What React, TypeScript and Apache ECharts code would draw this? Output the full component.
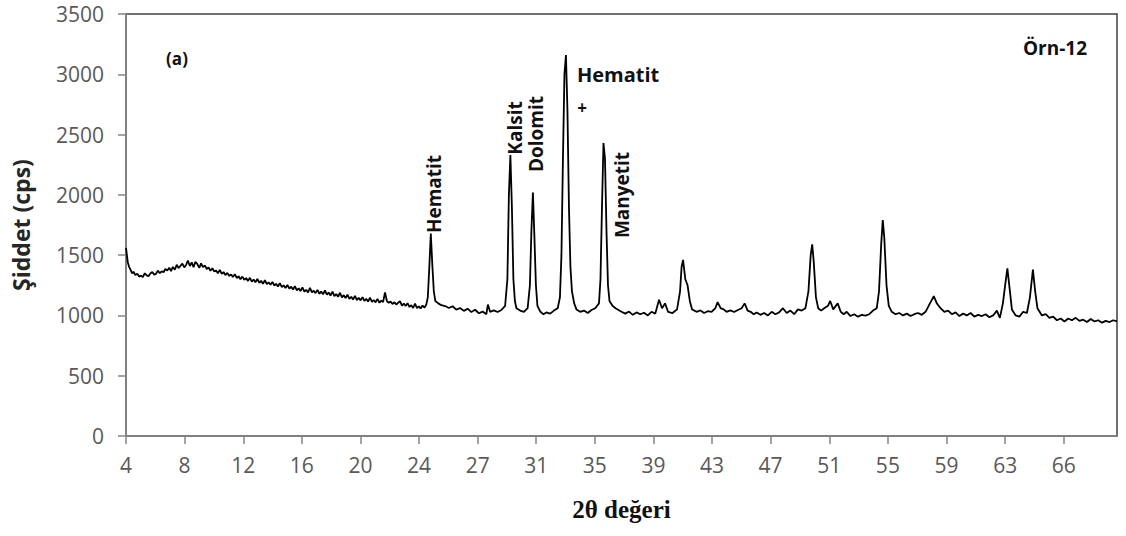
import React, { useEffect, useRef } from "react";
import * as echarts from "echarts";

// 2θ tick positions (degrees) and their printed labels
const tickPositions = [4, 7.9, 11.81, 15.71, 19.61, 23.52, 27.42, 31.32, 35.22, 39.13, 43.03, 46.93, 50.84, 54.74, 58.64, 62.55, 66.45];
const tickLabels = ["4", "8", "12", "16", "20", "24", "27", "31", "35", "39", "43", "47", "51", "55", "59", "63", "66"];

// XRD scan, low-angle part: [2θ, intensity (cps)]
const scanLow: [number, number][] = [
  [4.0, 1560], [4.06, 1500], [4.12, 1440], [4.2, 1405], [4.3, 1380], [4.4, 1350], [4.5, 1362], [4.62, 1335],
  [4.75, 1345], [4.88, 1322], [5.0, 1330], [5.12, 1318], [5.25, 1350], [5.38, 1332], [5.5, 1325], [5.62, 1348],
  [5.75, 1360], [5.88, 1338], [6.0, 1345], [6.12, 1372], [6.25, 1350], [6.38, 1366], [6.5, 1358], [6.62, 1385],
  [6.75, 1372], [6.88, 1395], [7.0, 1368], [7.12, 1402], [7.25, 1380], [7.38, 1420], [7.5, 1392], [7.62, 1410],
  [7.75, 1430], [7.88, 1398], [8.0, 1418], [8.12, 1455], [8.25, 1410], [8.38, 1440], [8.5, 1400], [8.62, 1445],
  [8.75, 1425], [8.88, 1395], [9.0, 1432], [9.12, 1400], [9.25, 1415], [9.38, 1385], [9.5, 1398], [9.62, 1370],
  [9.75, 1392], [9.88, 1365], [10.0, 1372], [10.12, 1350], [10.25, 1378], [10.38, 1345], [10.5, 1360], [10.62, 1335],
  [10.75, 1352], [10.88, 1328], [11.0, 1340], [11.12, 1318], [11.25, 1342], [11.38, 1310], [11.5, 1325], [11.62, 1300],
  [11.75, 1322], [11.88, 1296], [12.0, 1310], [12.12, 1285], [12.25, 1312], [12.38, 1280], [12.5, 1298], [12.62, 1275],
  [12.75, 1302], [12.88, 1270], [13.0, 1288], [13.12, 1262], [13.25, 1292], [13.38, 1260], [13.5, 1275], [13.62, 1255],
  [13.75, 1278], [13.88, 1248], [14.0, 1262], [14.12, 1240], [14.25, 1268], [14.38, 1235], [14.5, 1250], [14.62, 1228],
  [14.75, 1252], [14.88, 1222], [15.0, 1238], [15.12, 1215], [15.25, 1242], [15.38, 1208], [15.5, 1225], [15.62, 1202],
  [15.75, 1232], [15.88, 1198], [16.0, 1212], [16.12, 1190], [16.25, 1228], [16.38, 1192], [16.5, 1205], [16.62, 1185],
  [16.75, 1212], [16.88, 1180], [17.0, 1198], [17.12, 1175], [17.25, 1207], [17.38, 1172], [17.5, 1190], [17.62, 1165],
  [17.75, 1197], [17.88, 1160], [18.0, 1178], [18.12, 1155], [18.25, 1188], [18.38, 1150], [18.5, 1168], [18.62, 1145],
  [18.75, 1172], [18.88, 1138], [19.0, 1155], [19.12, 1132], [19.25, 1162], [19.38, 1128], [19.5, 1146], [19.62, 1125],
  [19.75, 1152], [19.88, 1120], [20.0, 1138], [20.12, 1115], [20.25, 1147], [20.38, 1112], [20.5, 1128], [20.62, 1108],
  [20.75, 1137], [20.88, 1105], [21.0, 1122], [21.12, 1110], [21.25, 1190], [21.38, 1118], [21.5, 1105], [21.62, 1115],
  [21.75, 1095], [21.88, 1110], [22.0, 1090], [22.12, 1105], [22.25, 1117], [22.38, 1082], [22.5, 1098], [22.62, 1078],
  [22.75, 1102], [22.88, 1070], [23.0, 1085], [23.12, 1062], [23.25, 1097], [23.38, 1060], [23.5, 1075], [23.62, 1058],
  [23.75, 1082], [23.88, 1065],
];

// XRD scan, peak region and high-angle part: [2θ, intensity (cps)]
const scanHigh: [number, number][] = [
  [24.0, 1090], [24.1, 1150], [24.2, 1400], [24.3, 1680], [24.4, 1420], [24.5, 1200], [24.6, 1120],
  [24.8, 1100], [25.0, 1085], [25.25, 1078], [25.5, 1062], [25.75, 1076], [26.0, 1048], [26.25, 1062], [26.5, 1038],
  [26.75, 1056], [27.0, 1028], [27.25, 1047], [27.5, 1018], [27.75, 1032], [28.0, 1010], [28.1, 1090], [28.25, 1030],
  [28.5, 1042], [28.75, 1028], [29.0, 1045], [29.25, 1080], [29.4, 1300], [29.5, 2000], [29.6, 2330], [29.7, 1900],
  [29.8, 1300], [29.9, 1120], [30.0, 1060], [30.25, 1040], [30.5, 1030], [30.75, 1060], [30.9, 1250], [31.0, 1700],
  [31.1, 2020], [31.2, 1650], [31.3, 1250], [31.4, 1080], [31.6, 1030], [31.8, 1010], [32.0, 1025], [32.25, 1015],
  [32.5, 1040], [32.75, 1060], [32.9, 1150], [33.0, 1500], [33.1, 2300], [33.2, 3000], [33.3, 3160], [33.4, 2700],
  [33.5, 1900], [33.6, 1400], [33.7, 1200], [33.85, 1100], [34.0, 1050], [34.25, 1030], [34.5, 1040], [34.75, 1020],
  [35.0, 1045], [35.25, 1060], [35.5, 1100], [35.6, 1300], [35.7, 1900], [35.8, 2430], [35.9, 2300], [36.0, 1700],
  [36.1, 1250], [36.2, 1120], [36.4, 1080], [36.6, 1060], [36.8, 1045], [37.0, 1030], [37.25, 1015], [37.5, 1032],
  [37.75, 1005], [38.0, 1025], [38.25, 1010], [38.5, 1022], [38.75, 1000], [39.0, 1030], [39.25, 1015], [39.5, 1130],
  [39.7, 1060], [39.9, 1100], [40.1, 1030], [40.4, 1020], [40.7, 1050], [40.9, 1200], [41.0, 1400], [41.1, 1460],
  [41.25, 1300], [41.4, 1250], [41.55, 1120], [41.7, 1050], [42.0, 1030], [42.25, 1042], [42.5, 1020], [42.75, 1035],
  [43.0, 1030], [43.25, 1060], [43.4, 1110], [43.6, 1060], [43.8, 1050], [44.0, 1030], [44.25, 1042], [44.5, 1028],
  [44.75, 1045], [45.0, 1060], [45.2, 1100], [45.4, 1040], [45.6, 1030], [45.8, 1010], [46.0, 1025], [46.25, 1005],
  [46.5, 1020], [46.75, 1000], [47.0, 1030], [47.25, 1010], [47.5, 1025], [47.75, 1060], [48.0, 1020], [48.25, 1040],
  [48.5, 1010], [48.75, 1050], [49.0, 1040], [49.25, 1060], [49.45, 1200], [49.6, 1500], [49.7, 1590], [49.8, 1450],
  [49.95, 1150], [50.1, 1060], [50.3, 1040], [50.5, 1060], [50.75, 1080], [50.9, 1120], [51.1, 1050], [51.4, 1100],
  [51.6, 1030], [51.8, 1010], [52.0, 1030], [52.25, 995], [52.5, 1010], [52.75, 990], [53.0, 1005], [53.25, 998],
  [53.5, 1010], [53.75, 1040], [54.0, 1060], [54.15, 1200], [54.3, 1600], [54.4, 1790], [54.5, 1650], [54.65, 1250],
  [54.8, 1080], [55.0, 1030], [55.25, 1010], [55.5, 1020], [55.75, 1000], [56.0, 1015], [56.25, 995], [56.5, 1010],
  [56.75, 1020], [57.0, 1005], [57.25, 1030], [57.5, 1090], [57.8, 1160], [58.0, 1100], [58.25, 1060], [58.5, 1030],
  [58.75, 1040], [59.0, 1010], [59.25, 1025], [59.5, 995], [59.75, 1015], [60.0, 1000], [60.25, 1020], [60.5, 990],
  [60.75, 1005], [61.0, 995], [61.25, 1010], [61.5, 985], [61.75, 1000], [62.0, 1040], [62.2, 980], [62.4, 1100],
  [62.55, 1250], [62.7, 1390], [62.85, 1220], [63.0, 1050], [63.25, 1000], [63.5, 990], [63.75, 1030], [64.0, 1020],
  [64.2, 1150], [64.4, 1380], [64.55, 1200], [64.7, 1060], [65.0, 1000], [65.25, 1010], [65.5, 980], [65.75, 990],
  [66.0, 960], [66.25, 975], [66.5, 950], [66.75, 975], [67.0, 960], [67.25, 980], [67.5, 955], [67.75, 965],
  [68.0, 945], [68.25, 970], [68.5, 950], [68.75, 960], [69.0, 940], [69.25, 955], [69.5, 945], [69.75, 960], [70.0, 950],
];

const sansFont = "'Open Sans', 'Noto Sans', sans-serif";

export default function App() {
  const ref = useRef<HTMLDivElement>(null);

  useEffect(() => {
    if (!ref.current) return;
    const chart = echarts.init(ref.current, undefined, { renderer: "svg" });
    const labelFor = (v: number) => {
      let best = 0;
      for (let i = 0; i < tickPositions.length; i++) {
        if (Math.abs(tickPositions[i] - v) < Math.abs(tickPositions[best] - v)) best = i;
      }
      return tickLabels[best];
    };
    const vText = (text: string, x: number, y: number) => ({
      type: "text",
      x,
      y,
      rotation: Math.PI / 2,
      style: {
        text,
        font: `bold 19px ${sansFont}`,
        fill: "#111",
        align: "center",
        verticalAlign: "middle",
      },
    });
    chart.setOption({
      animation: false,
      backgroundColor: "#ffffff",
      grid: {
        left: 126,
        right: 9,
        top: 14,
        bottom: 100,
        show: true,
        borderColor: "#404040",
        borderWidth: 1.5,
        backgroundColor: "transparent",
      },
      xAxis: {
        type: "value",
        min: 4,
        max: 70,
        name: "2θ değeri",
        nameLocation: "middle",
        nameGap: 61,
        nameTextStyle: {
          fontFamily: "'Liberation Serif', 'DejaVu Serif', serif",
          fontWeight: "bold",
          fontSize: 25,
          color: "#111",
        },
        axisLine: { show: true, lineStyle: { color: "#868686", width: 1.5 } },
        axisTick: { show: true, length: 8, customValues: tickPositions, lineStyle: { color: "#868686", width: 1.5 } },
        axisLabel: {
          customValues: tickPositions,
          formatter: (v: number) => labelFor(v),
          fontFamily: sansFont,
          fontSize: 21,
          color: "#595959",
          margin: 18,
        },
        splitLine: { show: false },
      },
      yAxis: {
        type: "value",
        min: 0,
        max: 3500,
        interval: 500,
        name: "Şiddet (cps)",
        nameLocation: "middle",
        nameGap: 94,
        nameRotate: 90,
        nameTextStyle: {
          fontFamily: sansFont,
          fontWeight: "bold",
          fontSize: 23,
          color: "#262626",
        },
        axisLine: { show: true, lineStyle: { color: "#868686", width: 1.5 } },
        axisTick: { show: true, length: 8, lineStyle: { color: "#868686", width: 1.5 } },
        axisLabel: {
          formatter: (v: number) => String(v),
          fontFamily: sansFont,
          fontSize: 21,
          color: "#595959",
          margin: 22,
        },
        splitLine: { show: false },
      },
      series: [
        {
          type: "line",
          data: [...scanLow, ...scanHigh],
          showSymbol: false,
          symbol: "none",
          lineStyle: { color: "#000000", width: 1.8 },
          z: 3,
        },
      ],
      graphic: [
        { type: "text", x: 177, y: 58, style: { text: "(a)", font: `bold 17px ${sansFont}`, fill: "#111", align: "center", verticalAlign: "middle" } },
        { type: "text", x: 1055, y: 48, style: { text: "Örn-12", font: `bold 19px ${sansFont}`, fill: "#111", align: "center", verticalAlign: "middle" } },
        { type: "text", x: 577, y: 74, style: { text: "Hematit", font: `bold 20px ${sansFont}`, fill: "#111", align: "left", verticalAlign: "middle" } },
        { type: "text", x: 582, y: 107, style: { text: "+", font: `bold 17px ${sansFont}`, fill: "#111", align: "center", verticalAlign: "middle" } },
        vText("Hematit", 434, 194),
        vText("Kalsit", 515, 128),
        vText("Dolomit", 536, 134),
        vText("Manyetit", 622, 195),
      ],
    });
    return () => chart.dispose();
  }, []);

  return <div ref={ref} style={{ position: "fixed", left: 0, top: 0, width: 1126, height: 536 }} />;
}
